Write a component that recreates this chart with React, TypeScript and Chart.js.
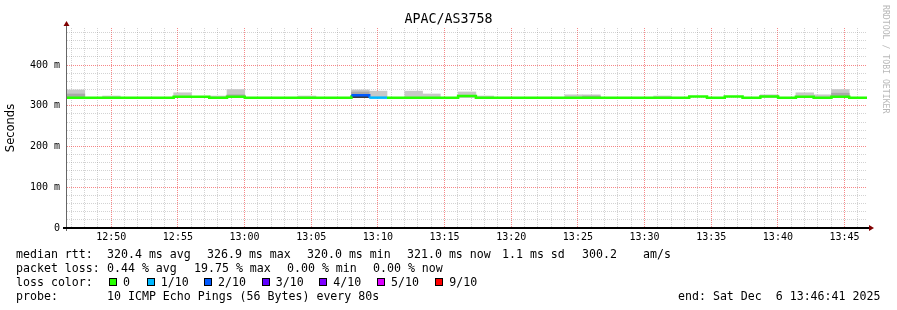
import React, { useEffect, useRef } from "react";
import { Chart, registerables } from "chart.js";

Chart.register(...registerables);

// ---------- data ----------
const TITLE = "APAC/AS3758";
const Y_AXIS_TITLE = "Seconds";
const START_S = 12 * 3600 + 46 * 60 + 41; // 12:46:41
const STEP_S = 80;
const SPAN_S = 3600;
const Y_MAX_MS = 491;
const Y_MINOR_MS = 20;
const Y_MAJOR_MS = 100;
const X_MINOR_S = 60;
const X_MAJOR_S = 300;

// median rtt per 80 s step (ms)
const MEDIAN_MS = [
  320, 320, 320, 320, 320, 320, 322, 322, 320, 322,
  320, 320, 320, 320, 320, 320, 326, 320, 320, 320,
  320, 320, 324, 320, 320, 320, 320, 320, 320, 320,
  320, 320, 320, 320, 320, 323, 320, 323, 320, 323,
  320, 322, 320, 322, 320,
];
// lost pings out of 10 per step
const LOSS_TENTHS = [
  0, 0, 0, 0, 0, 0, 0, 0, 0, 0,
  0, 0, 0, 0, 0, 0, 2, 1, 0, 0,
  0, 0, 0, 0, 0, 0, 0, 0, 0, 0,
  0, 0, 0, 0, 0, 0, 0, 0, 0, 0,
  0, 0, 0, 0, 0,
];
// smoke (ping spread) per step, ms
const SMOKE_LO_MS = 320;
const SMOKE_OUTER_MS: (number | null)[] = [
  339, null, 324, null, null, null, 332, null, 324, 340,
  null, null, null, 324, null, null, 339, 336, null, 336,
  329, null, 334, 324, null, null, null, null, 327, 327,
  null, null, null, 324, null, null, null, null, null, 327,
  null, 332, 327, 340, null,
];
const SMOKE_INNER_MS: (number | null)[] = [
  329, null, null, null, null, null, null, null, null, 327,
  null, null, null, null, null, null, 334, null, null, null,
  null, null, null, null, null, null, null, null, null, 324,
  null, null, null, null, null, null, null, null, null, null,
  null, null, null, 331, null,
];
const SMOKE_CORE_MS: (number | null)[] = [
  null, null, null, null, null, null, null, null, null, null,
  null, null, null, null, null, null, 325, null, null, null,
  null, null, null, null, null, null, null, null, null, null,
  null, null, null, null, null, null, null, null, null, null,
  null, null, null, null, null,
];

const LOSS_COLORS: Record<number, string> = {
  0: "#26ff00", 1: "#00b8ff", 2: "#0059ff", 3: "#5e00ff",
  4: "#7e00ff", 5: "#dd00ff", 9: "#ff0000",
};
const LOSS_LEGEND = [
  { label: "0", tenths: 0 },
  { label: "1/10", tenths: 1 },
  { label: "2/10", tenths: 2 },
  { label: "3/10", tenths: 3 },
  { label: "4/10", tenths: 4 },
  { label: "5/10", tenths: 5 },
  { label: "9/10", tenths: 9 },
];
const LEGEND_X = [109, 146.7, 204, 261.7, 319.3, 377, 435.3];

const STAT_LINES: { y: number; parts: [string, number][] }[] = [
  {
    y: 254,
    parts: [
      ["median rtt:", 16], ["320.4 ms avg", 107], ["326.9 ms max", 207],
      ["320.0 ms min", 307], ["321.0 ms now", 407], ["1.1 ms sd", 502],
      ["300.2", 582], ["am/s", 643],
    ],
  },
  {
    y: 268,
    parts: [
      ["packet loss:", 16], ["0.44 % avg", 107], ["19.75 % max", 194],
      ["0.00 % min", 287], ["0.00 % now", 373],
    ],
  },
  { y: 282, parts: [["loss color:", 16]] },
  {
    y: 296,
    parts: [
      ["probe:", 16], ["10 ICMP Echo Pings (56 Bytes) every 80s", 107],
      ["end: Sat Dec  6 13:46:41 2025", 678],
    ],
  },
];
const WATERMARK = "RRDTOOL / TOBI OETIKER";

// ---------- helpers ----------
const pad2 = (n: number) => (n < 10 ? "0" + n : "" + n);
const fmtTime = (s: number) => `${pad2(Math.floor(s / 3600))}:${pad2(Math.floor((s % 3600) / 60))}`;

const smokeData = (tops: (number | null)[]) =>
  tops
    .map((hi, i) => (hi == null ? null : { x: START_S + i * STEP_S + STEP_S / 2, y: [SMOKE_LO_MS, hi] }))
    .filter((d) => d !== null);

const MONO = "'DejaVu Sans Mono', monospace";

const axisDecor = {
  id: "axisDecor",
  afterDatasetsDraw(chart: any) {
    const { ctx, chartArea: a } = chart;
    ctx.save();
    ctx.strokeStyle = "#666";
    ctx.lineWidth = 1;
    ctx.beginPath();
    ctx.moveTo(a.left - 0.5, a.bottom + 3);
    ctx.lineTo(a.left - 0.5, a.top - 4);
    ctx.stroke();
    ctx.strokeStyle = "#000";
    ctx.lineWidth = 2;
    ctx.beginPath();
    ctx.moveTo(a.left - 4, a.bottom);
    ctx.lineTo(a.right + 3, a.bottom);
    ctx.stroke();
    ctx.fillStyle = "#800000";
    // top arrow
    ctx.beginPath();
    ctx.moveTo(a.left - 0.5, a.top - 7);
    ctx.lineTo(a.left - 3.5, a.top - 2);
    ctx.lineTo(a.left + 2.5, a.top - 2);
    ctx.closePath();
    ctx.fill();
    // right arrow
    ctx.beginPath();
    ctx.moveTo(a.right + 7, a.bottom);
    ctx.lineTo(a.right + 2, a.bottom - 3);
    ctx.lineTo(a.right + 2, a.bottom + 3);
    ctx.closePath();
    ctx.fill();
    ctx.restore();
  },
};

export default function App() {
  const canvasRef = useRef<HTMLCanvasElement | null>(null);

  useEffect(() => {
    const canvas = canvasRef.current;
    if (!canvas) return;

    const yTicks: number[] = [];
    for (let v = 0; v <= Y_MAX_MS; v += Y_MINOR_MS) yTicks.push(v);
    const xTicks: number[] = [];
    for (let t = Math.ceil(START_S / X_MINOR_S) * X_MINOR_S; t <= START_S + SPAN_S; t += X_MINOR_S) xTicks.push(t);
    const stepTicks: number[] = [];
    for (let k = 0; k <= SPAN_S / STEP_S; k++) stepTicks.push(START_S + k * STEP_S);

    const medianPts = MEDIAN_MS.map((v, i) => ({ x: START_S + i * STEP_S, y: v }));
    medianPts.push({ x: START_S + SPAN_S, y: MEDIAN_MS[MEDIAN_MS.length - 1] });

    const MINOR = "rgba(140,140,140,0.38)";
    const MAJOR = "rgba(240,50,50,0.58)";

    const barCommon = {
      type: "bar",
      xAxisID: "xs",
      grouped: false,
      barPercentage: 1,
      categoryPercentage: 1,
      borderWidth: 0,
    };

    const chart = new Chart(canvas, {
      type: "bar",
      data: {
        datasets: [
          {
            type: "line",
            label: "median",
            data: medianPts as any,
            xAxisID: "x",
            stepped: true,
            borderWidth: 2.5,
            pointRadius: 0,
            borderColor: LOSS_COLORS[0],
            segment: {
              borderColor: (c: any) => LOSS_COLORS[LOSS_TENTHS[c.p0DataIndex]] || LOSS_COLORS[0],
            },
            order: 0,
          } as any,
          { ...barCommon, label: "core", data: smokeData(SMOKE_CORE_MS), backgroundColor: "#3a3a3a", order: 1 } as any,
          { ...barCommon, label: "inner", data: smokeData(SMOKE_INNER_MS), backgroundColor: "#a8a8a8", order: 2 } as any,
          { ...barCommon, label: "outer", data: smokeData(SMOKE_OUTER_MS), backgroundColor: "#c8c8c8", order: 3 } as any,
        ],
      },
      options: {
        responsive: false,
        animation: false,
        events: [],
        layout: { padding: { top: 28, right: 30, left: 0, bottom: 0 } },
        plugins: {
          legend: { display: false },
          tooltip: { enabled: false },
          title: { display: false },
        },
        scales: {
          x: {
            type: "linear",
            position: "bottom",
            offset: false,
            min: START_S,
            max: START_S + SPAN_S,
            afterBuildTicks: (s: any) => {
              s.ticks = xTicks.map((v) => ({ value: v }));
            },
            afterFit: (s: any) => {
              s.height = 82;
            },
            ticks: {
              autoSkip: false,
              maxRotation: 0,
              padding: 3,
              color: "#000",
              font: { family: MONO, size: 10 },
              callback: (v: any) => (Number(v) % X_MAJOR_S === 0 ? fmtTime(Number(v)) : ""),
            },
            grid: {
              offset: false,
              drawTicks: false,
              lineWidth: 1,
              color: (c: any) => (c.tick && c.tick.value % X_MAJOR_S === 0 ? MAJOR : MINOR),
            },
            border: { display: false, dash: [1, 1] },
          },
          xs: {
            type: "linear",
            display: false,
            position: "bottom",
            offset: false,
            min: START_S,
            max: START_S + SPAN_S,
            afterBuildTicks: (s: any) => {
              s.ticks = stepTicks.map((v) => ({ value: v }));
            },
            grid: { display: false, offset: false },
          },
          y: {
            type: "linear",
            min: 0,
            max: Y_MAX_MS,
            afterBuildTicks: (s: any) => {
              s.ticks = yTicks.map((v) => ({ value: v }));
            },
            afterFit: (s: any) => {
              s.width = 67;
            },
            ticks: {
              autoSkip: false,
              padding: 7,
              color: "#000",
              font: { family: MONO, size: 10 },
              callback: (v: any) => {
                const n = Number(v);
                if (n % Y_MAJOR_MS !== 0) return "";
                return n === 0 ? "0" : `${n} m`;
              },
            },
            grid: {
              drawTicks: false,
              lineWidth: 1,
              color: (c: any) => (c.tick && c.tick.value % Y_MAJOR_MS === 0 ? MAJOR : MINOR),
            },
            border: { display: false, dash: [1, 1] },
            title: {
              display: true,
              text: Y_AXIS_TITLE,
              color: "#000",
              font: { family: "'DejaVu Sans', sans-serif", size: 11.5 },
              padding: { top: 4, bottom: 0 },
            },
          },
        },
      } as any,
      plugins: [axisDecor],
    });

    return () => chart.destroy();
  }, []);

  return (
    <div style={{ position: "fixed", left: 0, top: 0, width: 897, height: 310, background: "#fff", overflow: "hidden" }}>
      <canvas ref={canvasRef} width={897} height={310} style={{ position: "absolute", left: 0, top: 0, width: 897, height: 310 }} />
      <div
        style={{
          position: "absolute", left: 0, top: 11, width: 897, textAlign: "center",
          fontFamily: MONO, fontSize: 13.3, lineHeight: "16px", color: "#000", whiteSpace: "pre",
        }}
      >
        {TITLE}
      </div>
      <div
        style={{
          position: "absolute", left: 881, top: 5, writingMode: "vertical-rl",
          fontFamily: MONO, fontSize: 8.2, lineHeight: "10px", color: "#b8b8b8", whiteSpace: "pre",
        }}
      >
        {WATERMARK}
      </div>
      {STAT_LINES.map((line, li) =>
        line.parts.map(([text, x], pi) => (
          <div
            key={`${li}-${pi}`}
            style={{
              position: "absolute", left: x, top: line.y - 7,
              fontFamily: MONO, fontSize: 11.6, lineHeight: "14px", color: "#000", whiteSpace: "pre",
            }}
          >
            {text}
          </div>
        ))
      )}
      {LOSS_LEGEND.map((item, i) => (
        <React.Fragment key={item.label}>
          <div
            style={{
              position: "absolute", left: LEGEND_X[i], top: 278, width: 8, height: 8,
              boxSizing: "border-box", border: "1px solid #000", background: LOSS_COLORS[item.tenths],
            }}
          />
          <div
            style={{
              position: "absolute", left: LEGEND_X[i] + 14, top: 275,
              fontFamily: MONO, fontSize: 11.6, lineHeight: "14px", color: "#000", whiteSpace: "pre",
            }}
          >
            {item.label}
          </div>
        </React.Fragment>
      ))}
    </div>
  );
}
